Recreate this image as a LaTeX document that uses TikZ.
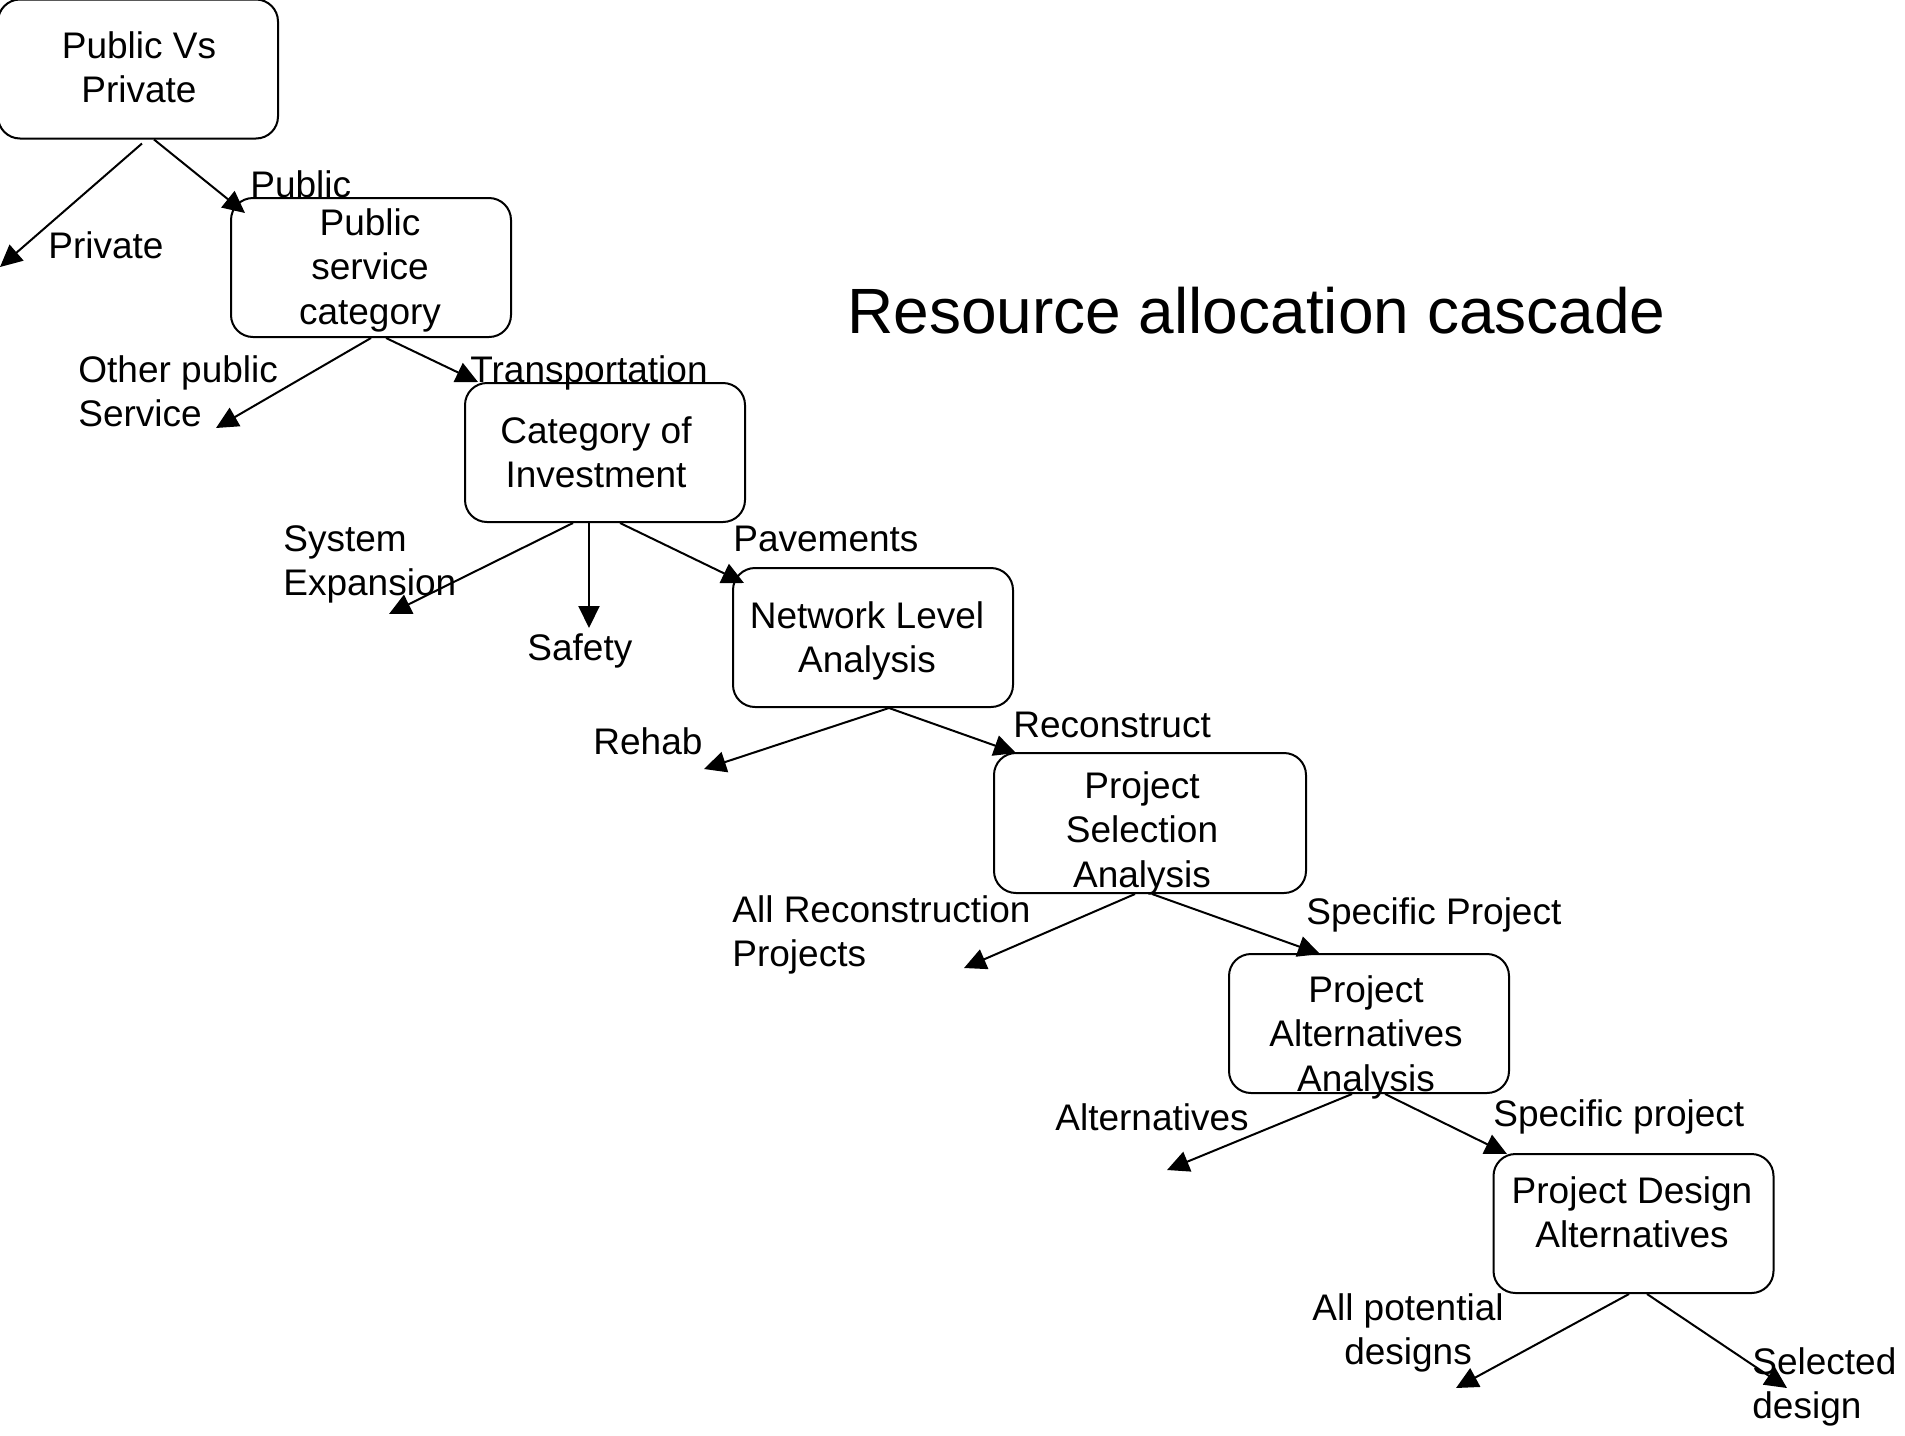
\documentclass[tikz,border=0pt]{standalone}
\usepackage{fontspec}
\setmainfont{Liberation Sans}
\usetikzlibrary{arrows.meta,calc}

\begin{document}
\begin{tikzpicture}[x=0.5pt,y=-0.5pt,
  box/.style={draw, line width=1pt, rounded corners=11pt, inner sep=0pt,
              minimum width=140pt, minimum height=69.5pt},
  txt/.style={inner sep=0pt, font=\fontsize{18.5}{22.25}\selectfont},
  boxtext/.style={txt, align=center, anchor=north},
  lbl/.style={txt, anchor=base west},
  lbltwo/.style={txt, align=left, anchor=north west},
  arr/.style={line width=1pt, -{Triangle[length=11pt,width=10.5pt]}},
  title/.style={inner sep=0pt, anchor=base west, font=\fontsize{32}{38}\selectfont}]

% canvas
\fill[white] (0,0) rectangle (1905,1435);
\useasboundingbox (0,0) rectangle (1905,1435);

% decision boxes
\node[box] (b1) at (138,69) {};
\node[box] (b2) at (371,267.5) {};
\node[box] (b3) at (605,452.5) {};
\node[box] (b4) at (873,637.5) {};
\node[box, minimum width=156pt, minimum height=70pt] (b5) at (1150,823) {};
\node[box] (b6) at (1369,1023.5) {};
\node[box] (b7) at (1633.5,1223.5) {};

% box captions
\node[boxtext] (b1t) at (139,31)   {Public Vs\\Private};
\node[boxtext] (b2t) at (370,208)  {Public\\service\\category};
\node[boxtext] (b3t) at (596,416)  {Category of\\Investment};
\node[boxtext] (b4t) at (867,601)  {Network Level\\Analysis};
\node[boxtext] (b5t) at (1142,771) {Project\\Selection\\Analysis};
\node[boxtext] (b6t) at (1366,975) {Project\\Alternatives\\Analysis};
\node[boxtext] (b7t) at (1632,1176) {Project Design\\Alternatives};

% title
\node[title] (ttl) at (847,333) {Resource allocation cascade};

% arrow end points
\coordinate (ePrivate) at (0,267);
\coordinate (ePublic)  at (245,213);
\coordinate (eOther)   at (216,428);
\coordinate (eTrans)   at (478,382);
\coordinate (eSys)     at (389,614);
\coordinate (eSafety)  at (589,628);
\coordinate (ePav)     at (744,583);
\coordinate (eRehab)   at (704,769);
\coordinate (eRecon)   at (1016,753);
\coordinate (eAllRec)  at (964,968);
\coordinate (eSpecA)   at (1320,954);
\coordinate (eAlt)     at (1167,1170);
\coordinate (eSpecB)   at (1507,1154);
\coordinate (eAllPot)  at (1456,1388);
\coordinate (eSel)     at (1787,1388);

% branches
\draw[arr] ($(b1.south)+(4,4)$)    -- (ePrivate);
\draw[arr] ($(b1.south)+(16,0)$)   -- (ePublic);
\draw[arr] (b2.south)              -- (eOther);
\draw[arr] ($(b2.south)+(15,0)$)   -- (eTrans);
\draw[arr] ($(b3.south)+(-32,0)$)  -- (eSys);
\draw[arr] ($(b3.south)+(-16,0)$)  -- (eSafety);
\draw[arr] ($(b3.south)+(15,0)$)   -- (ePav);
\draw[arr] ($(b4.south)+(16,0)$)   -- (eRehab);
\draw[arr] ($(b4.south)+(16,0)$)   -- (eRecon);
\draw[arr] ($(b5.south)+(-15,0)$)  -- (eAllRec);
\draw[arr] ($(b5.south)+(2,0)$)    -- (eSpecA);
\draw[arr] ($(b6.south)+(-17,0)$)  -- (eAlt);
\draw[arr] ($(b6.south)+(16,0)$)   -- (eSpecB);
\draw[arr] ($(b7.south)+(-4.5,0)$) -- (eAllPot);
\draw[arr] ($(b7.south)+(13.5,0)$) -- (eSel);

% branch labels
\node[lbl] (lPublic)  at (250,197)  {Public};
\node[lbl] (lPrivate) at (48,258)   {Private};
\node[lbltwo] (lOther) at (78,355)  {Other public\\Service};
\node[lbl] (lTrans)   at (470,382)  {Transportation};
\node[lbltwo] (lSys)  at (283,525)  {System\\Expansion};
\node[lbl] (lSafety)  at (527,660)  {Safety};
\node[lbl] (lPav)     at (733,551)  {Pavements};
\node[lbl] (lRehab)   at (593,754)  {Rehab};
\node[lbl] (lRecon)   at (1013,737) {Reconstruct};
\node[lbltwo] (lAllRec) at (732,895) {All Reconstruction\\Projects};
\node[lbl] (lSpecA)   at (1306,924) {Specific Project};
\node[lbl] (lAlt)     at (1055,1130) {Alternatives};
\node[lbl] (lSpecB)   at (1493,1126) {Specific project};
\node[txt, align=center, anchor=north] (lAllPot) at (1408,1293) {All potential\\designs};
\node[lbltwo] (lSel)  at (1752,1347) {Selected\\design};

\end{tikzpicture}
\end{document}
